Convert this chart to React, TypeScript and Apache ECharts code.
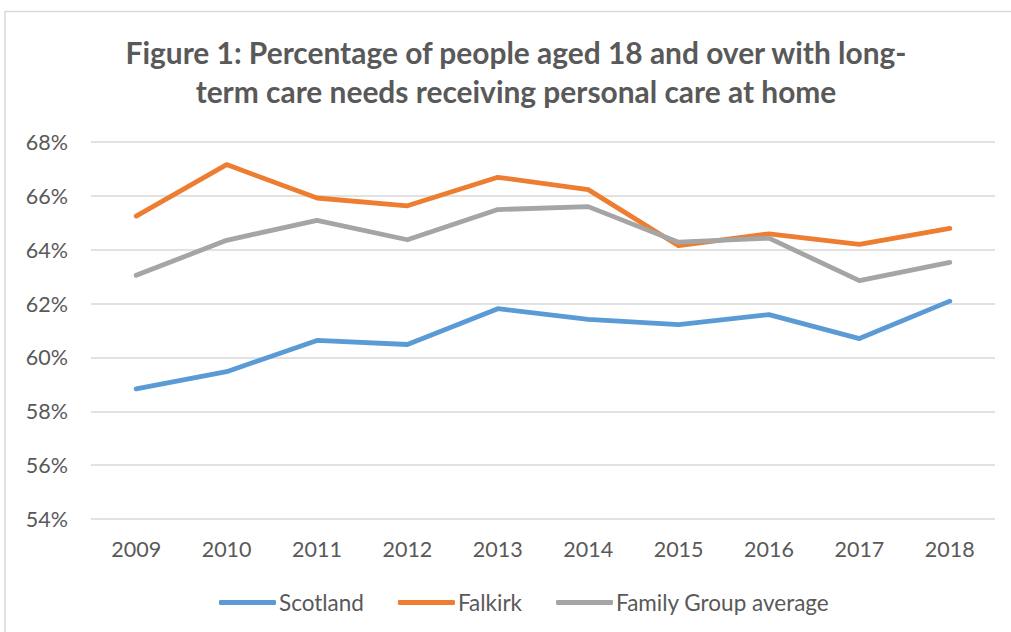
import React, { useEffect, useRef } from "react";
import * as echarts from "echarts";

const titleText = "Figure 1: Percentage of people aged 18 and over with long-\nterm care needs receiving personal care at home";
const years = ["2009", "2010", "2011", "2012", "2013", "2014", "2015", "2016", "2017", "2018"];
const scotland = [58.83, 59.47, 60.63, 60.48, 61.81, 61.41, 61.22, 61.59, 60.7, 62.09];
const falkirk = [65.25, 67.16, 65.92, 65.63, 66.69, 66.23, 64.15, 64.59, 64.2, 64.79];
const familyGroup = [63.05, 64.35, 65.09, 64.37, 65.49, 65.6, 64.28, 64.43, 62.85, 63.53];
const seriesNames = ["Scotland", "Falkirk", "Family Group average"];
const colors = ["#5B9BD5", "#ED7D31", "#A5A5A5"];

const FONT = "Lato, 'Open Sans', sans-serif";
const TEXT = "#595959";

export default function App() {
  const ref = useRef<HTMLDivElement>(null);
  useEffect(() => {
    if (!ref.current) return;
    const chart = echarts.init(ref.current, undefined, { renderer: "svg" });
    const data = [scotland, falkirk, familyGroup];
    chart.setOption({
      animation: false,
      backgroundColor: "#ffffff",
      textStyle: { fontFamily: FONT },
      graphic: [
        {
          type: "polyline",
          shape: { points: [[5, 632], [5, 11.5], [1011, 11.5]] },
          style: { fill: "none", stroke: "#D9D9D9", lineWidth: 1.5 },
          silent: true,
        },
      ],
      title: {
        text: titleText,
        left: 511,
        top: 27,
        textAlign: "center",
        textStyle: {
          fontFamily: FONT,
          fontWeight: "bold",
          fontSize: 29.9,
          lineHeight: 39,
          color: TEXT,
          align: "center",
        },
      },
      legend: {
        bottom: 13,
        left: 214,
        icon: "roundRect",
        itemWidth: 57,
        itemHeight: 5,
        itemGap: 34,
        data: seriesNames,
        textStyle: { fontFamily: FONT, fontSize: 22.5, color: TEXT, padding: [0, 0, 0, -2] },
      },
      grid: { left: 91, right: 16, top: 142, bottom: 113, containLabel: false },
      xAxis: {
        type: "category",
        data: years,
        boundaryGap: true,
        axisLine: { show: false },
        axisTick: { show: false },
        axisLabel: { fontFamily: FONT, fontSize: 21.5, color: TEXT, margin: 19 },
      },
      yAxis: {
        type: "value",
        min: 54,
        max: 68,
        interval: 2,
        axisLine: { show: false },
        axisTick: { show: false },
        splitLine: { lineStyle: { color: "#D9D9D9", width: 1.5 } },
        axisLabel: {
          fontFamily: FONT,
          fontSize: 21.5,
          color: TEXT,
          margin: 23,
          formatter: (v: number) => `${v}%`,
        },
      },
      series: seriesNames.map((name, i) => ({
        name,
        type: "line",
        data: data[i],
        symbol: "none",
        lineStyle: { color: colors[i], width: 4.8, cap: "round", join: "round" },
        itemStyle: { color: colors[i] },
      })),
    });
    return () => chart.dispose();
  }, []);
  return <div ref={ref} style={{ position: "fixed", left: 0, top: 0, width: 1011, height: 632 }} />;
}
